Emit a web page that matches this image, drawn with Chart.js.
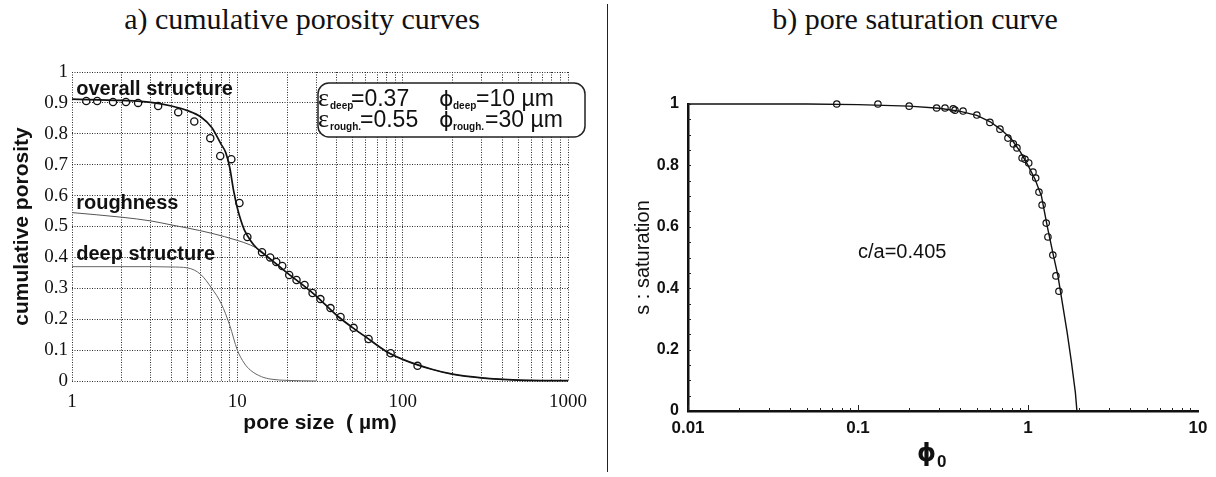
<!DOCTYPE html>
<html>
<head>
<meta charset="utf-8">
<script src="https://cdn.jsdelivr.net/npm/chart.js@4.4.0/dist/chart.umd.min.js"></script>
<style>
  html, body { margin: 0; padding: 0; background: #fff; }
  body { width: 1216px; height: 477px; position: relative; overflow: hidden; }
  .panel-title {
    position: absolute; top: 2px;
    font-family: 'Liberation Serif', 'Times New Roman', serif;
    font-size: 30px; color: #111; text-align: center;
  }
  #divider { position: absolute; left: 607px; top: 4px; width: 1px; height: 468px; background: #222; }
  canvas { position: absolute; top: 0; }
</style>
</head>
<body>
<div class="panel-title" style="left:0; width:604px;">a) cumulative porosity curves</div>
<div class="panel-title" style="left:608px; width:614px;">b) pore saturation curve</div>
<div id="divider"></div>
<canvas id="porosityChart" width="607" height="477" style="left:0"></canvas>
<canvas id="saturationChart" width="608" height="477" style="left:608px"></canvas>
<script>
// ---- a) cumulative porosity curves ----
const sizeTicks = [1, 10, 100, 1000];
const sizeTickLabels = ['1', '10', '100', '1000'];
const porosityTicks = [0, 0.1, 0.2, 0.3, 0.4, 0.5, 0.6, 0.7, 0.8, 0.9, 1];
const porosityTickLabels = ['0', '0.1', '0.2', '0.3', '0.4', '0.5', '0.6', '0.7', '0.8', '0.9', '1'];

const fitSize = [1, 2, 3, 4, 5, 6, 7, 8, 8.5, 9, 9.5, 10, 10.5, 11, 12, 13, 14, 16, 20, 25, 30, 40, 50, 60, 80, 100, 150, 200, 300, 500, 1000];
const overallFit = [0.912, 0.908, 0.902, 0.89, 0.875, 0.855, 0.82, 0.765, 0.74, 0.69, 0.615, 0.56, 0.52, 0.49, 0.455, 0.432, 0.417, 0.393, 0.35, 0.31, 0.275, 0.212, 0.172, 0.142, 0.095, 0.07, 0.038, 0.022, 0.01, 0.003, 0.001];

const roughSize = [1, 2, 3, 4, 5, 7, 10, 12, 14, 16, 20, 25, 30, 40, 50, 60, 80, 100, 150, 200, 300, 500, 1000];
const roughness = [0.545, 0.53, 0.518, 0.505, 0.495, 0.478, 0.455, 0.44, 0.42, 0.393, 0.35, 0.31, 0.275, 0.212, 0.172, 0.142, 0.095, 0.07, 0.038, 0.022, 0.01, 0.003, 0.001];

const deepSize = [1, 2, 3, 4, 5, 6, 7, 8, 9, 10, 11, 12, 14, 16, 20, 30];
const deepStructure = [0.37, 0.37, 0.37, 0.369, 0.366, 0.345, 0.3, 0.25, 0.18, 0.1, 0.058, 0.035, 0.014, 0.006, 0.002, 0];

const measuredSize = [1.22, 1.42, 1.77, 2.12, 2.51, 3.32, 4.39, 5.49, 6.86, 7.88, 9.2, 10.3, 11.5, 14.1, 15.8, 17.2, 18.7, 20.6, 22.8, 25.5, 28.5, 31.8, 36.6, 42.1, 50.5, 62.2, 84.6, 123];
const measuredPorosity = [0.906, 0.906, 0.903, 0.903, 0.9, 0.89, 0.87, 0.84, 0.786, 0.728, 0.718, 0.576, 0.466, 0.417, 0.4, 0.385, 0.372, 0.343, 0.327, 0.311, 0.285, 0.265, 0.236, 0.207, 0.172, 0.136, 0.09, 0.049];

// ---- b) pore saturation curve ----
const phiTicks = [0.01, 0.1, 1, 10];
const phiTickLabels = ['0.01', '0.1', '1', '10'];
const satTicks = [0, 0.2, 0.4, 0.6, 0.8, 1];
const satTickLabels = ['0', '0.2', '0.4', '0.6', '0.8', '1'];

const phiFit = [0.01, 0.05, 0.1, 0.2, 0.3, 0.4, 0.5, 0.6, 0.7, 0.8, 0.9, 1.0, 1.1, 1.2, 1.3, 1.4, 1.5, 1.6, 1.7, 1.8, 1.9, 1.94, 10];
const saturationFit = [1, 1, 0.998, 0.993, 0.986, 0.976, 0.963, 0.942, 0.915, 0.885, 0.845, 0.8, 0.755, 0.7, 0.6, 0.515, 0.44, 0.345, 0.255, 0.16, 0.06, 0, 0];

const measuredPhi = [0.075, 0.131, 0.2, 0.29, 0.325, 0.363, 0.372, 0.415, 0.5, 0.597, 0.684, 0.762, 0.82, 0.861, 0.923, 0.96, 1.01, 1.07, 1.11, 1.16, 1.21, 1.28, 1.31, 1.4, 1.46, 1.52];
const measuredSaturation = [1.0, 1.0, 0.993, 0.987, 0.987, 0.984, 0.98, 0.977, 0.964, 0.94, 0.918, 0.889, 0.87, 0.857, 0.824, 0.82, 0.808, 0.778, 0.759, 0.713, 0.671, 0.612, 0.567, 0.508, 0.44, 0.39];

function toPoints(xs, ys) {
    return xs.map((x, i) => ({ x: x, y: ys[i] }));
}

// every 1..9 step of each decade, for the log grid
const sizeGrid = [];
sizeTicks.forEach((d, i) => {
    const last = i === sizeTicks.length - 1;
    for (let k = 1; k <= (last ? 1 : 9); k++) sizeGrid.push(d * k);
});

const SANS = '"Liberation Sans", Arial, sans-serif';
const SERIF = '"Liberation Serif", "Times New Roman", serif';

// Curve names and the parameter box
const porosityNotes = {
    id: 'porosityNotes',
    afterDraw(chart) {
        const { ctx, scales: { x, y } } = chart;
        ctx.save();
        ctx.fillStyle = '#111';
        ctx.textBaseline = 'middle';
        ctx.font = 'bold 20px ' + SANS;
        ctx.fillText('overall structure', x.getPixelForValue(1.06), y.getPixelForValue(0.945));
        ctx.fillText('roughness', x.getPixelForValue(1.06), y.getPixelForValue(0.576));
        ctx.fillText('deep structure', x.getPixelForValue(1.06), y.getPixelForValue(0.41));

        // parameter box
        ctx.beginPath();
        ctx.roundRect(318, 83, 267, 54, 11);
        ctx.fillStyle = '#fff';
        ctx.fill();
        ctx.lineWidth = 1.5;
        ctx.strokeStyle = '#222';
        ctx.stroke();

        ctx.fillStyle = '#111';
        ctx.textBaseline = 'alphabetic';
        const rows = [
            { base: 106, sub: 'deep', eps: '=0.37', phi: '=10 \u00b5m', epsX: 351, phiX: 476 },
            { base: 127, sub: 'rough.', eps: '=0.55', phi: '=30 \u00b5m', epsX: 360, phiX: 485 }
        ];
        rows.forEach(r => {
            ctx.font = '26px ' + SERIF;
            ctx.fillText('\u03b5', 318, r.base);
            ctx.font = '22px "DejaVu Sans", sans-serif';
            ctx.fillText('\u03d5', 439, r.base);
            ctx.font = 'bold 10px ' + SANS;
            ctx.fillText(r.sub, 330, r.base + 3);
            ctx.fillText(r.sub, 453, r.base + 3);
            ctx.font = '23px ' + SANS;
            ctx.fillText(r.eps, r.epsX, r.base);
            ctx.fillText(r.phi, r.phiX, r.base);
        });
        ctx.restore();
    }
};

const gridStyle = { color: '#2a2a2a', lineWidth: 1, drawTicks: false };
const gridBorder = { display: false, dash: [1, 1.5] };

new Chart(document.getElementById('porosityChart'), {
    type: 'scatter',
    data: {
        datasets: [
            {
                label: 'overall structure (fit)',
                data: toPoints(fitSize, overallFit),
                showLine: true,
                borderColor: '#111',
                borderWidth: 1.7,
                pointRadius: 0,
                cubicInterpolationMode: 'monotone',
                clip: 4
            },
            {
                label: 'roughness',
                data: toPoints(roughSize, roughness),
                showLine: true,
                borderColor: '#555',
                borderWidth: 1,
                pointRadius: 0,
                cubicInterpolationMode: 'monotone',
                clip: 4
            },
            {
                label: 'deep structure',
                data: toPoints(deepSize, deepStructure),
                showLine: true,
                borderColor: '#666',
                borderWidth: 1,
                pointRadius: 0,
                cubicInterpolationMode: 'monotone',
                clip: 4
            },
            {
                label: 'measured',
                data: toPoints(measuredSize, measuredPorosity),
                showLine: false,
                pointRadius: 3.6,
                pointBorderWidth: 1.3,
                pointBorderColor: '#111',
                pointBackgroundColor: '#fff',
                clip: 6
            }
        ]
    },
    options: {
        responsive: false,
        animation: false,
        devicePixelRatio: 1,
        layout: { padding: { top: 72, right: 39, bottom: 0, left: 0 } },
        plugins: { legend: { display: false }, tooltip: { enabled: false } },
        scales: {
            x: {
                type: 'logarithmic',
                min: 1,
                max: 1000,
                afterBuildTicks: s => { s.ticks = sizeGrid.map(v => ({ value: v })); },
                afterFit: s => { s.height = 96; },
                ticks: {
                    autoSkip: false,
                    maxRotation: 0,
                    padding: 10,
                    color: '#111',
                    font: { family: SERIF, size: 19 },
                    callback: v => {
                        const i = sizeTicks.indexOf(v);
                        return i >= 0 ? sizeTickLabels[i] : '';
                    }
                },
                grid: gridStyle,
                border: gridBorder,
                title: {
                    display: true,
                    text: 'pore size  ( \u00b5m)',
                    color: '#111',
                    font: { family: SANS, size: 21, weight: 'bold' },
                    padding: { top: 0, bottom: 41 }
                }
            },
            y: {
                min: 0,
                max: 1,
                afterBuildTicks: s => { s.ticks = porosityTicks.map(v => ({ value: v })); },
                afterFit: s => { s.width = 72; },
                ticks: {
                    padding: 4,
                    color: '#111',
                    font: { family: SERIF, size: 19 },
                    callback: (v, i) => porosityTickLabels[i]
                },
                grid: gridStyle,
                border: gridBorder,
                title: {
                    display: true,
                    text: 'cumulative porosity',
                    color: '#111',
                    font: { family: SANS, size: 21, weight: 'bold' },
                    padding: { top: 10, bottom: 0 }
                }
            }
        }
    },
    plugins: [porosityNotes]
});

// Inner minor ticks, c/a note and the phi_0 axis name
const saturationNotes = {
    id: 'saturationNotes',
    afterDraw(chart) {
        const { ctx, chartArea, scales: { x, y } } = chart;
        ctx.save();
        ctx.strokeStyle = '#222';
        ctx.lineWidth = 1;
        phiTicks.slice(0, -1).forEach(d => {
            for (let k = 1; k <= 9; k++) {
                const px = Math.round(x.getPixelForValue(d * k)) + 0.5;
                const len = k === 1 ? 6 : 3;
                ctx.beginPath();
                ctx.moveTo(px, chartArea.bottom);
                ctx.lineTo(px, chartArea.bottom - len);
                ctx.stroke();
            }
        });
        for (let v = 0.05; v < 1.001; v += 0.05) {
            const py = Math.round(y.getPixelForValue(v)) + 0.5;
            ctx.beginPath();
            ctx.moveTo(chartArea.left, py);
            ctx.lineTo(chartArea.left + 3, py);
            ctx.stroke();
        }

        ctx.fillStyle = '#111';
        ctx.textBaseline = 'middle';
        ctx.font = '20px ' + SANS;
        ctx.fillText('c/a=0.405', x.getPixelForValue(0.1), y.getPixelForValue(0.515));

        ctx.textBaseline = 'alphabetic';
        ctx.font = 'bold 24px "DejaVu Sans", sans-serif';
        ctx.fillText('\u03d5', 309, 461);
        ctx.font = 'bold 17px ' + SANS;
        ctx.fillText('0', 329, 467);
        ctx.restore();
    }
};

new Chart(document.getElementById('saturationChart'), {
    type: 'scatter',
    data: {
        datasets: [
            {
                label: 'fit',
                data: toPoints(phiFit, saturationFit),
                showLine: true,
                borderColor: '#111',
                borderWidth: 1.4,
                pointRadius: 0,
                clip: 6
            },
            {
                label: 'measured',
                data: toPoints(measuredPhi, measuredSaturation),
                showLine: false,
                pointRadius: 3.2,
                pointBorderWidth: 1.2,
                pointBorderColor: '#111',
                pointBackgroundColor: 'rgba(255,255,255,0)',
                clip: 6
            }
        ]
    },
    options: {
        responsive: false,
        animation: false,
        devicePixelRatio: 1,
        layout: { padding: { top: 104, right: 18, bottom: 0, left: 0 } },
        plugins: { legend: { display: false }, tooltip: { enabled: false } },
        scales: {
            x: {
                type: 'logarithmic',
                min: 0.01,
                max: 10,
                afterBuildTicks: s => { s.ticks = phiTicks.map(v => ({ value: v })); },
                afterFit: s => { s.height = 66; },
                ticks: {
                    autoSkip: false,
                    maxRotation: 0,
                    padding: 7,
                    color: '#111',
                    font: { family: SANS, size: 17, weight: 'bold' },
                    callback: (v, i) => phiTickLabels[i]
                },
                grid: { display: false, drawTicks: false },
                border: { display: true, color: '#111', width: 2.5 }
            },
            y: {
                min: 0,
                max: 1,
                afterBuildTicks: s => { s.ticks = satTicks.map(v => ({ value: v })); },
                afterFit: s => { s.width = 80; },
                ticks: {
                    padding: 9,
                    color: '#111',
                    font: { family: SANS, size: 16, weight: 'bold' },
                    callback: (v, i) => satTickLabels[i]
                },
                grid: { display: false, drawTicks: false },
                border: { display: true, color: '#111', width: 2.5 },
                title: {
                    display: true,
                    text: 's : saturation',
                    color: '#111',
                    font: { family: SANS, size: 20 },
                    padding: { top: 23, bottom: 0 }
                }
            }
        }
    },
    plugins: [saturationNotes]
});
</script>
</body>
</html>
